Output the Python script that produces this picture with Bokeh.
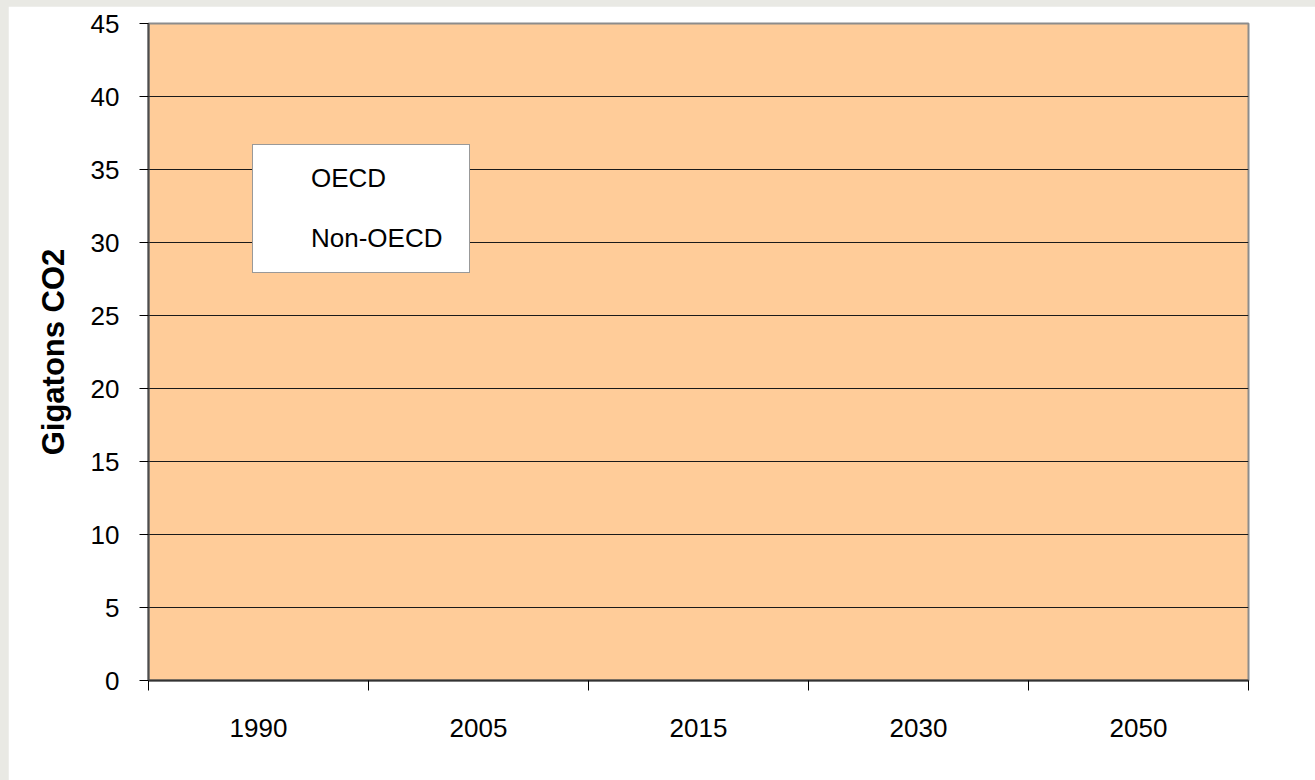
from bokeh.plotting import figure
from bokeh.models import Range1d, FixedTicker, ColumnDataSource, Legend, LegendItem
from bokeh.layouts import column
from bokeh.embed import file_html
from bokeh.resources import INLINE
import numpy as np

# ---- data (bars are not visible in the reference: heights read as 0) ----
years = ["1990", "2005", "2015", "2030", "2050"]
oecd = [0, 0, 0, 0, 0]
non_oecd = [0, 0, 0, 0, 0]
series = ["OECD", "Non-OECD"]
y_ticks = [0, 5, 10, 15, 20, 25, 30, 35, 40, 45]

FONT = "Liberation Sans"

x_pos = np.arange(len(years)) + 0.5
src = ColumnDataSource(dict(x=x_pos, OECD=oecd, **{"Non-OECD": non_oecd}))

p = figure(width=1307, height=774, output_backend="svg", toolbar_location=None,
           x_range=Range1d(0, len(years)), y_range=Range1d(0, 45),
           min_border_left=140, min_border_right=67, min_border_top=17, min_border_bottom=100)
p.margin = (6, 0, 0, 8)

p.background_fill_color = "#FFCC99"
p.border_fill_color = "white"
p.outline_line_color = "#8c8c8c"
p.outline_line_width = 2

rs = p.vbar_stack(series, x="x", width=0.6, source=src,
                  fill_color=["#9999FF", "#993366"], fill_alpha=0, line_alpha=0)

# y axis
p.yaxis.ticker = FixedTicker(ticks=y_ticks)
p.yaxis.major_tick_out = 9
p.yaxis.major_tick_in = 0
p.yaxis.minor_tick_line_color = None
p.yaxis.axis_line_color = "#4d4d4d"
p.yaxis.axis_line_width = 2
p.yaxis.major_tick_line_color = "black"
p.yaxis.major_label_text_font = FONT
p.yaxis.major_label_text_font_size = "26px"
p.yaxis.major_label_text_color = "black"
p.yaxis.major_label_standoff = 20
p.yaxis.axis_label = "Gigatons CO2"
p.yaxis.axis_label_text_font = FONT
p.yaxis.axis_label_text_font_style = "bold"
p.yaxis.axis_label_text_font_size = "31px"
p.yaxis.axis_label_text_color = "black"
p.yaxis.axis_label_standoff = 17

# x axis: labels at category centres, tick marks at category boundaries
p.xaxis.ticker = FixedTicker(ticks=list(x_pos), minor_ticks=list(range(len(years) + 1)))
p.xaxis.major_label_overrides = {float(x): y for x, y in zip(x_pos, years)}
p.xaxis.major_tick_line_color = None
p.xaxis.major_tick_out = 0
p.xaxis.major_tick_in = 0
p.xaxis.minor_tick_out = 10
p.xaxis.minor_tick_in = 0
p.xaxis.minor_tick_line_color = "black"
p.xaxis.axis_line_color = "#333333"
p.xaxis.axis_line_width = 2
p.xaxis.major_label_text_font = FONT
p.xaxis.major_label_text_font_size = "26px"
p.xaxis.major_label_text_color = "black"
p.xaxis.major_label_standoff = 28

p.xgrid.grid_line_color = None
p.ygrid.ticker = FixedTicker(ticks=y_ticks[1:-1])
p.ygrid.grid_line_color = "#1a1a1a"
p.ygrid.grid_line_width = 1

legend = Legend(items=[LegendItem(label=s, renderers=[r]) for s, r in zip(series, rs)],
                location=(104, 407))
legend.label_text_font = FONT
legend.label_text_font_size = "26px"
legend.label_text_color = "black"
legend.glyph_width = 30
legend.glyph_height = 24
legend.label_height = 24
legend.label_width = 140
legend.label_standoff = 10
legend.spacing = 29
legend.padding = 18
legend.margin = 0
legend.border_line_color = "#333333"
legend.border_line_width = 1
legend.background_fill_color = "white"
legend.background_fill_alpha = 1
p.add_layout(legend)

layout = column(p, styles={"background-color": "#e9e9e4"})

open("out.html", "w").write(file_html(layout, INLINE))
